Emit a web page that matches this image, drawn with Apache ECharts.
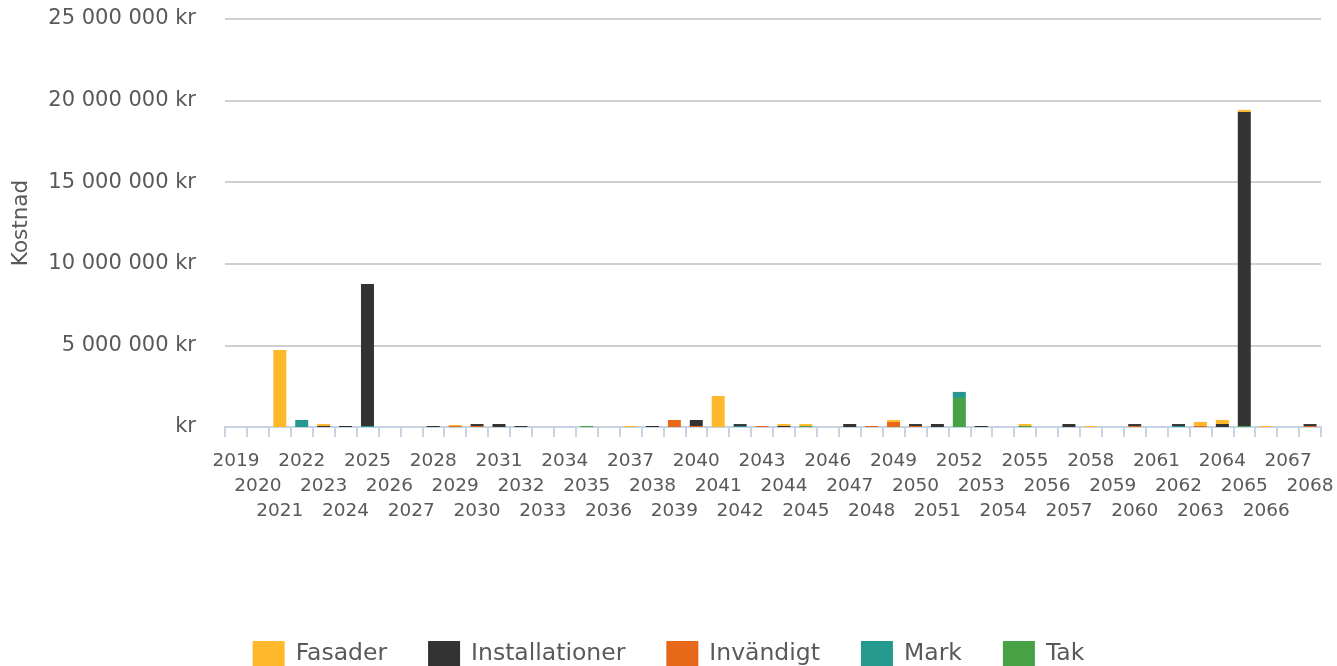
<!doctype html>
<html lang="sv">
<head>
    <meta charset="utf-8">
    <title>Kostnad per år</title>
    <style>
        html, body { margin: 0; padding: 0; background: #fff; }
        #chart { width: 1337px; height: 666px; }
    </style>
</head>
<body>
    <div id="chart"></div>
    <script src="https://cdn.jsdelivr.net/npm/echarts@6/dist/echarts.min.js"></script>
    <script>
        // år 2019 - 2068
        var years = [];
        for (var y = 2019; y <= 2068; y++) years.push(String(y));

        // kostnader i kr (ett värde per år)
        var fasader = [
            0, 0, 4720000, 0, 120000, 0, 0, 0, 0, 0,
            60000, 0, 0, 0, 0, 0, 0, 0, 60000, 0,
            0, 0, 1900000, 0, 0, 120000, 120000, 0, 0, 0,
            120000, 0, 0, 0, 0, 0, 120000, 0, 0, 60000,
            0, 0, 0, 0, 250000, 250000, 120000, 60000, 0, 0
        ];
        var installationer = [
            0, 0, 0, 0, 60000, 60000, 8700000, 0, 0, 60000,
            0, 120000, 185000, 60000, 0, 0, 0, 0, 0, 60000,
            0, 370000, 0, 120000, 0, 60000, 0, 0, 185000, 0,
            0, 120000, 185000, 0, 60000, 0, 0, 0, 185000, 0,
            0, 120000, 0, 120000, 0, 185000, 19250000, 0, 0, 120000
        ];
        var invandigt = [
            0, 0, 0, 0, 0, 0, 0, 0, 0, 0,
            60000, 60000, 0, 0, 0, 0, 0, 0, 0, 0,
            430000, 60000, 0, 0, 60000, 0, 0, 0, 0, 60000,
            310000, 60000, 0, 0, 0, 0, 0, 0, 0, 0,
            0, 60000, 0, 0, 60000, 0, 0, 0, 0, 60000
        ];
        var mark = [
            0, 0, 0, 430000, 0, 0, 60000, 0, 0, 0,
            0, 0, 0, 0, 0, 0, 0, 0, 0, 0,
            0, 0, 0, 60000, 0, 0, 0, 0, 0, 0,
            0, 0, 0, 370000, 0, 0, 0, 0, 0, 0,
            0, 0, 0, 60000, 0, 0, 0, 0, 0, 0
        ];
        var tak = [
            0, 0, 0, 0, 0, 0, 0, 0, 0, 0,
            0, 0, 0, 0, 0, 0, 60000, 0, 0, 0,
            0, 0, 0, 0, 0, 0, 60000, 0, 0, 0,
            0, 0, 0, 1780000, 0, 0, 60000, 0, 0, 0,
            0, 0, 0, 0, 0, 0, 60000, 0, 0, 0
        ];
        var legendNames = ['Fasader', 'Installationer', 'Invändigt', 'Mark', 'Tak'];

        var textColor = '#595959';
        var axisColor = '#c5d3e2';
        var fontFamily = '"DejaVu Sans", sans-serif';

        function kr(v) {
            if (v === 0) return 'kr';
            return String(v).replace(/\B(?=(\d{3})+(?!\d))/g, ' ') + ' kr';
        }

        function bar(name, data, color) {
            return {
                name: name,
                type: 'bar',
                stack: 'total',
                barWidth: 13,
                itemStyle: { color: color },
                data: data
            };
        }

        var chart = echarts.init(document.getElementById('chart'), null, { renderer: 'canvas' });
        chart.setOption({
            animation: false,
            textStyle: { fontFamily: fontFamily },
            grid: [
                { left: 225, right: 16, top: 19, bottom: 239, containLabel: false },
                // thin strip under the axis line, its split lines act as the category ticks
                { left: 225, right: 16, top: 427, height: 10, containLabel: false }
            ],
            legend: {
                data: legendNames,
                top: 641,
                left: 'center',
                padding: 0,
                itemWidth: 32,
                itemHeight: 26,
                itemGap: 41,
                icon: 'rect',
                textStyle: { color: textColor, fontSize: 23.5, fontFamily: fontFamily, padding: [4, 0, 0, 6] }
            },
            xAxis: [{
                type: 'category',
                data: years,
                boundaryGap: true,
                axisLine: { show: true, onZero: false, lineStyle: { color: axisColor, width: 2 } },
                axisTick: { show: false },
                axisLabel: {
                    interval: 0,
                    color: textColor,
                    fontSize: 18.5,
                    fontFamily: fontFamily,
                    lineHeight: 25,
                    margin: 22,
                    formatter: function (val, idx) {
                        return '\n'.repeat(idx % 3) + val;
                    }
                }
            }, {
                type: 'category',
                gridIndex: 1,
                data: years,
                boundaryGap: true,
                axisLine: { show: false },
                axisTick: { show: false },
                axisLabel: { show: false },
                splitLine: { show: true, interval: 0, lineStyle: { color: axisColor, width: 2 } }
            }],
            yAxis: [{
                type: 'value',
                min: 0,
                max: 25000000,
                interval: 5000000,
                name: 'Kostnad',
                nameLocation: 'middle',
                nameGap: 193,
                nameRotate: 90,
                nameTextStyle: { color: textColor, fontSize: 21.5, fontFamily: fontFamily },
                axisLine: { show: false },
                axisTick: { show: false },
                splitLine: { lineStyle: { color: '#bfbfbf', width: 1.5 } },
                axisLabel: {
                    color: textColor,
                    fontSize: 21,
                    fontFamily: fontFamily,
                    margin: 29,
                    formatter: kr
                }
            }, {
                type: 'value',
                gridIndex: 1,
                show: false
            }],
            series: [
                bar('Tak', tak, '#46a244'),
                bar('Mark', mark, '#26998e'),
                bar('Invändigt', invandigt, '#e8681a'),
                bar('Installationer', installationer, '#333333'),
                bar('Fasader', fasader, '#ffb82b')
            ]
        });
    </script>
</body>
</html>
